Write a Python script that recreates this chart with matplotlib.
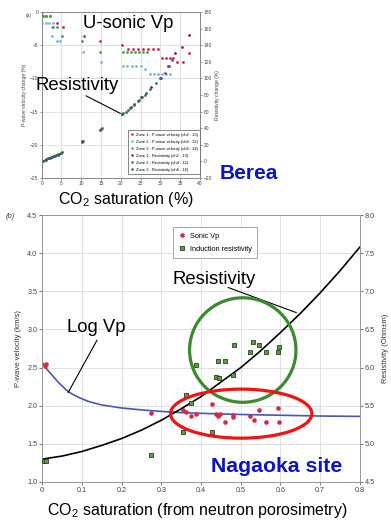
import matplotlib.pyplot as plt
from matplotlib.patches import Ellipse

plt.rcParams['font.family'] = ['Liberation Sans', 'DejaVu Sans']
plt.rcParams['mathtext.fontset'] = 'custom'
plt.rcParams['mathtext.rm'] = 'Liberation Sans'

# ---- (a) Berea core: velocity change (left) and resistivity change (right) vs CO2 saturation
vp_z1_x = [0.4, 1.2, 2.0, 3.8, 5.3, 10.6, 14.8, 20.2, 21.9, 23.1, 24.4, 25.6, 26.8, 28.1, 29.4,
           30.3, 31.3, 32.4, 33.2, 34.1, 35.6, 37.3]
vp_z1_y = [-0.6, -0.6, -0.6, -1.6, -2.2, -3.6, -4.3, -5.0, -5.6, -5.6, -5.6, -5.6, -5.6, -5.6, -5.6,
           -6.9, -6.9, -6.9, -6.9, -7.6, -7.6, -6.2]
vp_z2_x = [0.0, 1.0, 1.9, 2.9, 2.5, 2.5, 3.8, 4.6, 10.4, 15.1, 20.6, 21.6, 22.7, 23.9, 25.1, 26.1,
           27.4, 28.4, 29.4, 30.4, 31.4, 32.4]
vp_z2_y = [-1.6, -1.6, -1.6, -1.6, -2.2, -3.6, -4.3, -4.3, -6.1, -7.5, -8.1, -8.1, -8.1, -8.1, -8.1, -8.6,
           -9.3, -9.3, -9.3, -9.3, -9.3, -9.3]
vp_z3_x = [0.0, 0.4, 1.2, 2.0, 2.9, 3.8, 5.2, 10.1, 14.7, 20.6, 21.6, 22.6, 23.6, 24.6, 25.6, 26.5]
vp_z3_y = [0.0, -0.6, -0.6, -0.6, -2.2, -2.2, -3.6, -4.3, -6.1, -6.1, -6.1, -6.1, -6.1, -6.1, -6.1, -6.1]

res_z1_x = [0.0, 0.8, 1.6, 2.4, 3.2, 4.0, 4.8, 10.3, 15.0, 20.4, 22.5, 25.0, 27.5, 30.0, 32.0,
            33.8, 35.4, 37.2]
res_z1_y = [0, 2, 3.5, 5, 6.5, 8, 9.5, 24, 39, 57, 66, 77, 90, 101, 115, 130, 138, 152]
res_z2_x = [0.2, 1.0, 1.8, 2.6, 3.4, 4.2, 5.0, 10.5, 15.2, 20.6, 21.8, 23.2, 24.6, 26.0, 27.4,
            28.8, 30.2, 31.2, 32.2, 32.8]
res_z2_y = [0.5, 2, 4, 5.5, 7, 8.5, 10, 25, 40, 58, 62, 68, 74, 80, 87, 94, 101, 107, 115, 122]
res_z3_x = [0.4, 1.2, 2.0, 2.8, 3.6, 4.4, 5.2, 10.1, 14.8, 20.2, 21.2, 22.2, 23.4, 24.4, 25.4, 26.4]
res_z3_y = [1, 2.5, 4, 6, 7.5, 9, 11, 23, 38, 57, 60, 64, 69, 73, 77, 82]

zone_labels = ['Zone 1 : P-wave velocity (ch2 : 13)', 'Zone 2 : P-wave velocity (ch4 : 12)',
               'Zone 3 : P-wave velocity (ch6 : 14)', 'Zone 1 : Resistivity (ch2 : 13)',
               'Zone 2 : Resistivity (ch4 : 12)', 'Zone 3 : Resistivity (ch6 : 14)']

# ---- (b) Nagaoka well logs
sonic_x = [0.006, 0.010, 0.275, 0.354, 0.363, 0.374, 0.388, 0.427, 0.438, 0.442, 0.448, 0.461,
           0.480, 0.481, 0.524, 0.533, 0.547, 0.564, 0.593, 0.597]
sonic_vp = [2.52, 2.55, 1.91, 1.95, 1.92, 1.86, 1.89, 2.02, 1.89, 1.87, 1.89, 1.78,
            1.85, 1.88, 1.87, 1.81, 1.94, 1.79, 1.97, 1.79]
ind_x = [0.005, 0.009, 0.275, 0.354, 0.427, 0.363, 0.374, 0.388, 0.438, 0.446, 0.480, 0.442,
         0.461, 0.524, 0.564, 0.593, 0.482, 0.531, 0.547, 0.597]
ind_res = [4.77, 4.77, 4.85, 5.16, 5.16, 5.64, 5.53, 6.03, 5.87, 5.86, 5.90, 6.09,
           6.08, 6.20, 6.21, 6.21, 6.30, 6.33, 6.30, 6.27]

# model curves, read along their length
logvp_x = [0.0, 0.01, 0.02, 0.03, 0.04, 0.05, 0.06, 0.07, 0.08, 0.10, 0.12, 0.15, 0.20, 0.25,
           0.30, 0.35, 0.40, 0.50, 0.60, 0.70, 0.80]
logvp_y = [2.57, 2.49, 2.43, 2.37, 2.31, 2.26, 2.21, 2.17, 2.14, 2.09, 2.05, 2.01, 1.97, 1.945,
           1.925, 1.91, 1.90, 1.885, 1.875, 1.865, 1.86]
logres_x = [0.0, 0.05, 0.10, 0.15, 0.20, 0.25, 0.30, 0.35, 0.40, 0.45, 0.50, 0.55, 0.60, 0.65,
            0.70, 0.75, 0.80]
logres_y = [4.80, 4.84, 4.90, 4.98, 5.07, 5.18, 5.31, 5.46, 5.62, 5.81, 6.00, 6.22, 6.46, 6.71,
            6.98, 7.27, 7.58]

W, H = 391, 523


def fpos(x, y):
    return x / W, 1 - y / H


fig = plt.figure(figsize=(W / 100, H / 100), dpi=100)

# ================= panel (a) =================
axA = fig.add_axes([0.1066, 0.6597, 0.405, 0.3174])
axA2 = axA.twinx()

c_vp = ['#d02050', '#7fb2e0', '#44a644']
c_res = ['#80204e', '#4060b0', '#2a7034']
ms = 2.0
h = []
h += axA.plot(vp_z1_x, vp_z1_y, 'o', ms=ms, mew=0, color=c_vp[0])
h += axA.plot(vp_z2_x, vp_z2_y, 'o', ms=ms, mew=0, color=c_vp[1])
h += axA.plot(vp_z3_x, vp_z3_y, 'o', ms=ms, mew=0, color=c_vp[2])
h += axA2.plot(res_z1_x, res_z1_y, 'o', ms=ms, mew=0, color=c_res[0])
h += axA2.plot(res_z2_x, res_z2_y, 'o', ms=ms, mew=0, color=c_res[1])
h += axA2.plot(res_z3_x, res_z3_y, 'o', ms=ms, mew=0, color=c_res[2])

axA.set_xlim(0, 40)
axA.set_ylim(-25, 0)
axA2.set_ylim(-20, 180)
axA.set_xticks(range(0, 41, 5))
axA.set_yticks(range(-25, 1, 5))
axA2.set_yticks(range(-20, 181, 20))
axA.grid(color='#d6d6d6', lw=0.5)
for a in (axA, axA2):
    a.tick_params(labelsize=3.5, length=1.5, width=0.4, pad=1, colors='#444444')
    for s in a.spines.values():
        s.set_color('#888888')
        s.set_linewidth(0.6)
axA.set_ylabel('P-wave velocity change (%)', fontsize=3.6, color='#444444', labelpad=2)
axA2.set_ylabel('Resistivity change (%)', fontsize=3.6, color='#444444', labelpad=2)

legA = axA2.legend(h, zone_labels, loc='upper left', bbox_to_anchor=(0.535, 0.30),
                   fontsize=2.9, handlelength=0.8, handletextpad=0.4, borderpad=0.6,
                   labelspacing=0.75, markerscale=0.9, fancybox=False, framealpha=1)
legA.get_frame().set_edgecolor('#555555')
legA.get_frame().set_linewidth(0.5)

axA2.annotate('', xy=(20.2, 57), xytext=(11.2, 79),
              arrowprops=dict(arrowstyle='-', lw=0.8, color='black', shrinkA=0, shrinkB=1))

fig.text(*fpos(29, 15), '(a)', fontsize=3.5, color='#444444', ha='center', va='center')
fig.text(*fpos(128, 23), 'U-sonic Vp', fontsize=13.3, ha='center', va='center')
fig.text(*fpos(77.5, 86), 'Resistivity', fontsize=13.3, ha='center', va='center')
fig.text(*fpos(126, 200), r'CO$_\mathregular{2}$ saturation (%)', fontsize=11.5,
         ha='center', va='center')
fig.text(*fpos(248.5, 174), 'Berea', fontsize=15, fontweight='bold', color='#0c12c8',
         ha='center', va='center')

# ================= panel (b) =================
axB = fig.add_axes([0.108, 0.0784, 0.8125, 0.5105])
axB2 = axB.twinx()

hs, = axB.plot(sonic_x, sonic_vp, 'o', ms=3.3, mew=0, color='#d42a48', zorder=3)
axB.plot(logvp_x, logvp_y, '-', lw=1.2, color='#4a56b4', zorder=2)
hi, = axB2.plot(ind_x, ind_res, 's', ms=3.2, mfc='#5f9c45', mec='#27401c', mew=0.6, zorder=3)
axB2.plot(logres_x, logres_y, '-', lw=1.2, color='black', zorder=2)

axB.set_xlim(0, 0.8)
axB.set_ylim(1.0, 4.5)
axB2.set_ylim(4.5, 8.0)
axB.set_xticks([i / 10 for i in range(9)])
axB.set_yticks([1.0 + 0.5 * i for i in range(8)])
axB2.set_yticks([4.5 + 0.5 * i for i in range(8)])
axB.xaxis.set_major_formatter(lambda v, p: '0' if v == 0 else f'{v:.1f}')
axB.yaxis.set_major_formatter(lambda v, p: f'{v:.1f}')
axB2.yaxis.set_major_formatter(lambda v, p: f'{v:.1f}')
axB.grid(color='#dcdcdc', lw=0.6)
for a in (axB, axB2):
    a.tick_params(labelsize=5.2, length=2, width=0.5, pad=1.5, colors='#444444')
    for s in a.spines.values():
        s.set_color('#999999')
        s.set_linewidth(0.6)
axB.set_ylabel('P-wave velocity (km/s)', fontsize=5.5, color='#333333', labelpad=4)
axB2.set_ylabel('Resistivity (Ohm±m)', fontsize=5.5, color='#333333', labelpad=5)

axB2.add_patch(Ellipse((0.505, 6.23), 0.268, 1.37, fill=False, lw=2.3,
                       edgecolor='#3a8a2e', zorder=4))
axB2.add_patch(Ellipse((0.501, 5.396), 0.356, 0.643, fill=False, lw=2.3,
                       edgecolor='#ee1414', zorder=4))

legB = axB2.legend([hs, hi], ['Sonic Vp', 'Induction resistivity'], loc='upper left',
                   bbox_to_anchor=(0.40, 0.968), fontsize=5.3, handlelength=1.0,
                   handletextpad=0.6, borderpad=0.7, labelspacing=0.8,
                   fancybox=False, framealpha=1)
legB.get_frame().set_edgecolor('#999999')
legB.get_frame().set_linewidth(0.6)

axB2.annotate('', xy=(0.64, 6.72), xytext=(0.468, 7.05),
              arrowprops=dict(arrowstyle='-', lw=0.8, color='black', shrinkA=0, shrinkB=0))
axB.annotate('', xy=(0.065, 2.17), xytext=(0.138, 2.86),
             arrowprops=dict(arrowstyle='-', lw=0.8, color='black', shrinkA=0, shrinkB=0))

fig.text(*fpos(10, 216), '(b)', fontsize=5.5, style='italic', color='#444444',
         ha='center', va='center')
fig.text(*fpos(214, 279), 'Resistivity', fontsize=13.3, ha='center', va='center')
fig.text(*fpos(96.5, 328), 'Log Vp', fontsize=13.3, ha='center', va='center')
fig.text(*fpos(277, 467), 'Nagaoka site', fontsize=15.3, fontweight='bold', color='#0c12c8',
         ha='center', va='center')
fig.text(*fpos(197, 511), r'CO$_\mathregular{2}$ saturation (from neutron porosimetry)',
         fontsize=11.5, ha='center', va='center')

fig.savefig('out.png', dpi=100)
